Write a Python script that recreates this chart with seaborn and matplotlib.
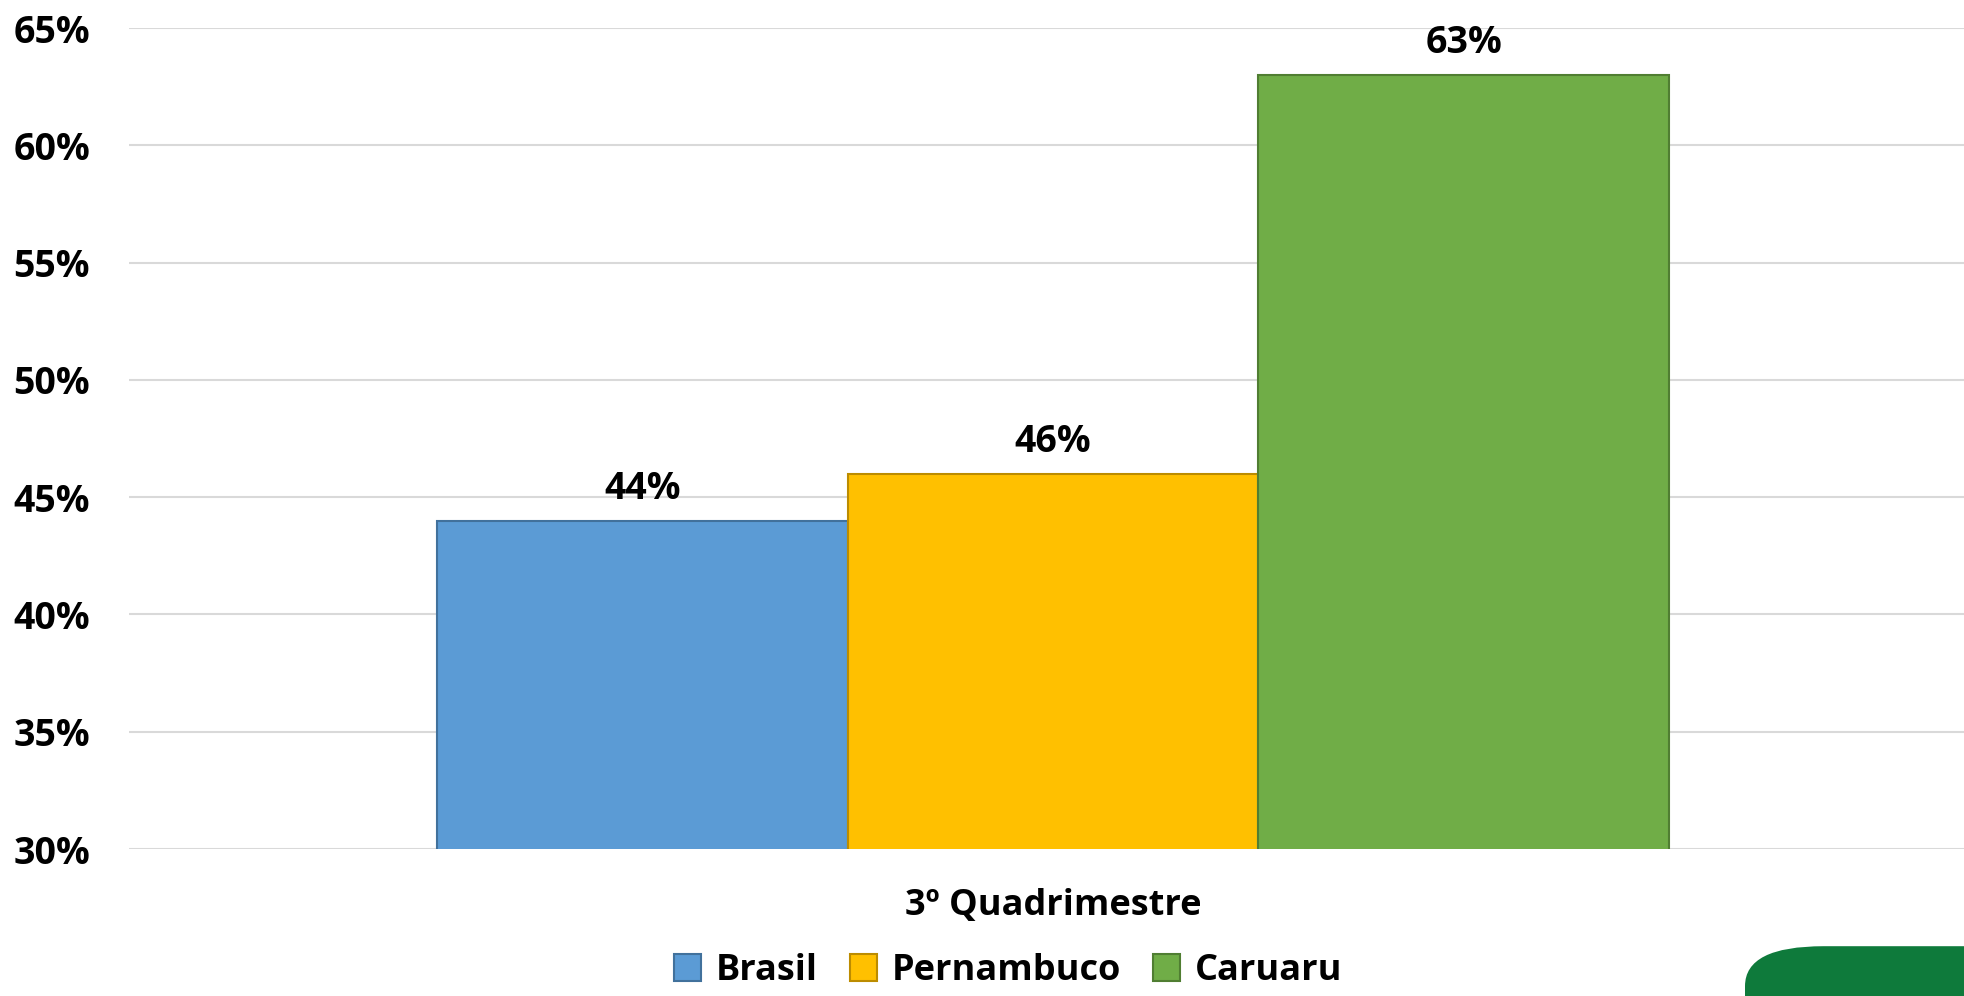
import pandas as pd
import matplotlib.pyplot as plt
import seaborn as sns
from matplotlib.patches import FancyBboxPatch

# dados
periodo = ['3º Quadrimestre']
locais = ['Brasil', 'Pernambuco', 'Caruaru']
valores = [44, 46, 63]
cores = ['#5B9BD5', '#FFC000', '#70AD47']
bordas = ['#41719C', '#BC8C00', '#507E32']
yticks = [30, 35, 40, 45, 50, 55, 60, 65]

df = pd.DataFrame({'periodo': periodo * len(locais), 'local': locais, 'valor': valores})

sns.set_style('white')
plt.rcParams['font.family'] = ['Open Sans', 'DejaVu Sans']
plt.rcParams['font.weight'] = 'bold'
plt.rcParams['text.color'] = 'black'
plt.rcParams['xtick.color'] = 'black'
plt.rcParams['ytick.color'] = 'black'

fig = plt.figure(figsize=(19.65, 9.96), dpi=100)
ax = fig.add_axes([129 / 1965, 1 - 849 / 996, 1 - 129 / 1965, (849 - 28) / 996])

sns.barplot(data=df, x='periodo', y='valor', hue='local', palette=cores,
            width=0.671, saturation=1, ax=ax, legend=True)

for patch, borda in zip(ax.patches, bordas):
    patch.set_edgecolor(borda)
    patch.set_linewidth(1.5)
    patch.set_zorder(3)

for cont in ax.containers:
    ax.bar_label(cont, labels=[f'{v:.0f}%' for v in cont.datavalues], padding=9,
                 fontsize=27, fontweight='bold', color='black')

ax.set_ylim(30, 65)
ax.set_xlim(-0.5033, 0.4967)
ax.set_yticks(yticks)
ax.set_yticklabels([f'{t}%' for t in yticks], fontsize=27, fontweight='bold')
ax.tick_params(axis='x', labelsize=26, pad=28, length=0)
ax.tick_params(axis='y', length=0, pad=28)
for lab in ax.get_xticklabels():
    lab.set_fontweight('bold')
ax.set_xlabel('')
ax.set_ylabel('')
ax.yaxis.grid(True, color='#d9d9d9', linewidth=1.5, zorder=0)
ax.set_axisbelow(True)
for s in ax.spines.values():
    s.set_visible(False)

handles, labels = ax.get_legend_handles_labels()
ax.legend_.remove()
for h, borda in zip(handles, bordas):
    h.set_edgecolor(borda)
    h.set_linewidth(1.5)
fig.legend(handles, labels, loc='center', bbox_to_anchor=(0.513, 0.025), ncol=3,
           frameon=False, prop={'size': 26, 'weight': 'bold'},
           handlelength=0.75, handleheight=0.75, handletextpad=0.4, columnspacing=0.9)

# logo (canto inferior direito)
fig.patches.append(FancyBboxPatch((1745 / 1965, -0.1), 0.2, 0.15,
                                  boxstyle='round,pad=0,rounding_size=0.04',
                                  transform=fig.transFigure, facecolor='#0E7A3B',
                                  edgecolor='none', zorder=0))

fig.savefig('out.png', dpi=100)
